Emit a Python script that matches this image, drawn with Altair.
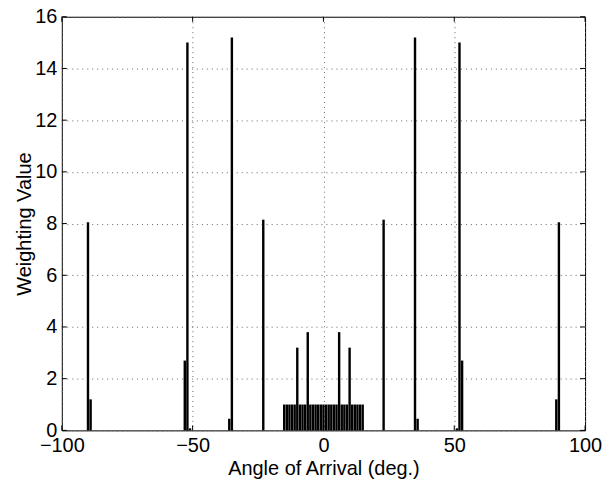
import altair as alt
import pandas as pd

# Data
angles = [-90, -89, -53, -52, -51, -36, -35, -23,
          -15, -14, -13, -12, -11, -10, -9, -8, -7, -6, -5, -4, -3, -2, -1,
          0, 1, 2, 3, 4, 5, 6, 7, 8, 9, 10, 11, 12, 13, 14, 15,
          23, 35, 36, 51, 52, 53, 89, 90]
weights = [8.05, 1.2, 2.7, 15.0, 0.08, 0.45, 15.2, 8.15,
           1, 1, 1, 1, 1, 3.2, 1, 1, 1, 3.8, 1, 1, 1, 1, 1,
           1, 1, 1, 1, 1, 1, 3.8, 1, 1, 1, 3.2, 1, 1, 1, 1, 1,
           8.15, 15.2, 0.45, 0.08, 15.0, 2.7, 1.2, 8.05]
x_ticks = [-100, -50, 0, 50, 100]
y_ticks = [0, 2, 4, 6, 8, 10, 12, 14, 16]

W, H = 525, 415
FONT = "Liberation Sans"

bars_df = pd.DataFrame({"angle": angles, "weight": weights})
xt_df = pd.DataFrame({"tx": x_ticks})
yt_df = pd.DataFrame({"ty": y_ticks})

xscale = alt.Scale(domain=[-100, 100], nice=False, zero=False)
yscale = alt.Scale(domain=[0, 16], nice=False)

xaxis = alt.Axis(values=x_ticks, title="Angle of Arrival (deg.)",
                 format="d", labelFlush=False, labelOverlap=False,
                 tickSize=0, labelPadding=5, domain=False,
                 grid=True, gridDash=[1, 4], gridColor="#666",
                 titleY=38, titleBaseline="middle")
yaxis = alt.Axis(values=y_ticks, title="Weighting Value",
                 tickSize=0, labelPadding=5, domain=False,
                 grid=True, gridDash=[1, 4], gridColor="#666",
                 titleX=-37, titleBaseline="middle")

bars = alt.Chart(bars_df).transform_calculate(
    lo="datum.angle - 0.46", hi="datum.angle + 0.46"
).mark_rect(color="black").encode(
    x=alt.X("lo:Q", scale=xscale, axis=xaxis),
    x2="hi:Q",
    y=alt.Y("weight:Q", scale=yscale, axis=yaxis),
    y2=alt.datum(0),
)

tick_bottom = alt.Chart(xt_df).mark_rule(color="black").encode(
    x=alt.X("tx:Q", scale=xscale, axis=xaxis),
    y=alt.value(H), y2=alt.value(H - 5))
tick_top = alt.Chart(xt_df).mark_rule(color="black").encode(
    x=alt.X("tx:Q", scale=xscale, axis=xaxis),
    y=alt.value(0), y2=alt.value(5))
tick_left = alt.Chart(yt_df).mark_rule(color="black").encode(
    y=alt.Y("ty:Q", scale=yscale, axis=yaxis),
    x=alt.value(0), x2=alt.value(5))
tick_right = alt.Chart(yt_df).mark_rule(color="black").encode(
    y=alt.Y("ty:Q", scale=yscale, axis=yaxis),
    x=alt.value(W), x2=alt.value(W - 5))

chart = alt.layer(bars, tick_bottom, tick_top, tick_left, tick_right).properties(
    width=W, height=H,
    autosize=alt.AutoSizeParams(type="none"),
    padding={"left": 54, "top": 8, "right": 20, "bottom": 49},
).configure_view(
    stroke="black", strokeWidth=1
).configure_axis(
    labelFont=FONT, titleFont=FONT, labelFontSize=20, titleFontSize=20,
    labelColor="black", titleColor="black", titleFontWeight="normal",
)

chart.save("out.html", embed_options={"renderer": "svg", "actions": False})
